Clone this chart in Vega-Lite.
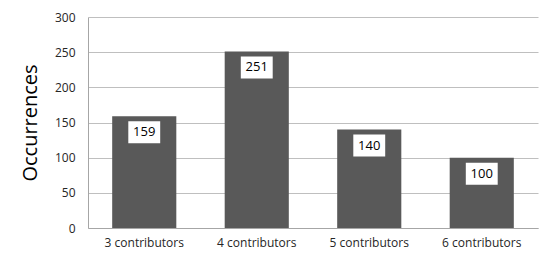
{
  "$schema": "https://vega.github.io/schema/vega-lite/v6.json",
  "width": 450,
  "height": 211,
  "autosize": {"type": "none"},
  "padding": {"left": 88, "top": 17, "right": 12, "bottom": 37},
  "background": "white",
  "config": {"view": {"stroke": null}},
  "data": {"values": [
    {"group": "3 contributors", "count": 159},
    {"group": "4 contributors", "count": 251},
    {"group": "5 contributors", "count": 140},
    {"group": "6 contributors", "count": 100}
  ]},
  "encoding": {
    "x": {"field": "group", "type": "nominal", "sort": null,
      "scale": {"paddingInner": 0.43, "paddingOuter": 0.215},
      "axis": {"title": null, "labelAngle": 0, "ticks": false, "domainColor": "#a6a6a6", "labelFont": "Open Sans", "labelFontSize": 12, "labelColor": "#262626", "labelPadding": 9}},
    "y": {"field": "count", "type": "quantitative",
      "scale": {"domain": [0, 300]},
      "axis": {"title": "Occurrences", "values": [0, 50, 100, 150, 200, 250, 300], "ticks": false, "domainColor": "#a6a6a6", "gridColor": "#bfbfbf", "labelFont": "Open Sans", "labelFontSize": 12, "labelColor": "#262626", "labelPadding": 13, "titleFont": "Open Sans", "titleFontSize": 20, "titleFontWeight": "normal", "titleColor": "#000000", "titlePadding": 14}}
  },
  "layer": [
    {"mark": {"type": "bar", "color": "#595959"}},
    {"mark": {"type": "point", "shape": "M-1.45,-1L1.45,-1L1.45,1L-1.45,1Z", "size": 484, "filled": true, "color": "white", "opacity": 1, "yOffset": 16}},
    {"mark": {"type": "text", "dy": 16, "font": "Open Sans", "fontSize": 13, "color": "#000000"}, "encoding": {"text": {"field": "count"}}}
  ]
}
